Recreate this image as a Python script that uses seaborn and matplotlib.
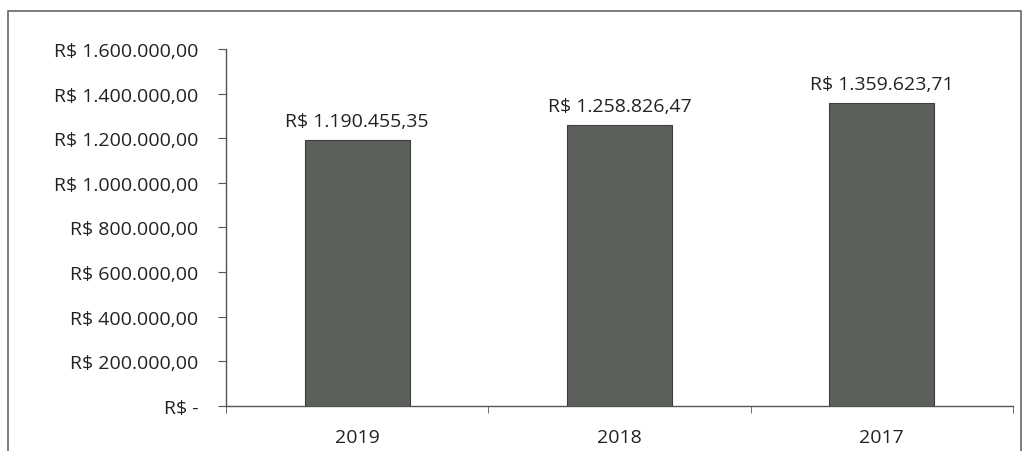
import matplotlib
matplotlib.use('Agg')
import matplotlib.pyplot as plt
import matplotlib.ticker as mticker
import pandas as pd
import seaborn as sns

anos = ["2019", "2018", "2017"]
valores = [1190455.35, 1258826.47, 1359623.71]
y_ticks = [0, 200000, 400000, 600000, 800000, 1000000, 1200000, 1400000, 1600000]


def fmt_real(v, pos=None):
    """Formata valores no padrão R$ 1.234.567,89"""
    if v == 0:
        return "R$ -"
    s = "{:,.2f}".format(v)
    s = s.replace(",", "X").replace(".", ",").replace("X", ".")
    return "R$ " + s


sns.set_style("white")
plt.rcParams['font.family'] = ['Open Sans', 'DejaVu Sans']

df = pd.DataFrame({"ano": anos, "valor": valores})

fig = plt.figure(figsize=(10.29, 4.52), dpi=100)
ax = fig.add_axes([0.2196, 0.0996, 0.7649, 0.790])

sns.barplot(data=df, x="ano", y="valor", color="#5c605b", width=0.4,
            saturation=1, edgecolor="#3c3f3c", linewidth=0.8, ax=ax)

for i, v in enumerate(valores):
    ax.text(i, v + 45000, fmt_real(v), ha="center", va="bottom",
            fontsize=14, color="#222222")

ax.set_ylim(0, 1600000)
ax.set_xlim(-0.5, 2.5)
ax.set_yticks(y_ticks)
ax.yaxis.set_major_formatter(mticker.FuncFormatter(fmt_real))
ax.set_xlabel("")
ax.set_ylabel("")

# ticks do eixo x nas divisas das categorias
ax.set_xticks([0, 1, 2])
ax.set_xticks([-0.5, 0.5, 1.5, 2.5], minor=True)
ax.tick_params(axis="x", which="major", length=0, pad=16, labelsize=14, labelcolor="#222222")
ax.tick_params(axis="x", which="minor", length=5, color="#555555", direction="out")
ax.tick_params(axis="y", length=6, color="#555555", direction="out", pad=14,
               labelsize=14, labelcolor="#222222")
ax.tick_params(bottom=True, left=True, which="both")

for side in ["top", "right"]:
    ax.spines[side].set_visible(False)
for side in ["left", "bottom"]:
    ax.spines[side].set_color("#555555")
    ax.spines[side].set_linewidth(1.0)

# moldura externa do gráfico
borda = plt.Rectangle((8 / 1029, -0.02), 1013 / 1029, 0.993, transform=fig.transFigure,
                      fill=False, edgecolor="#666666", linewidth=1.2)
fig.patches.append(borda)

fig.savefig("out.png", dpi=100)
